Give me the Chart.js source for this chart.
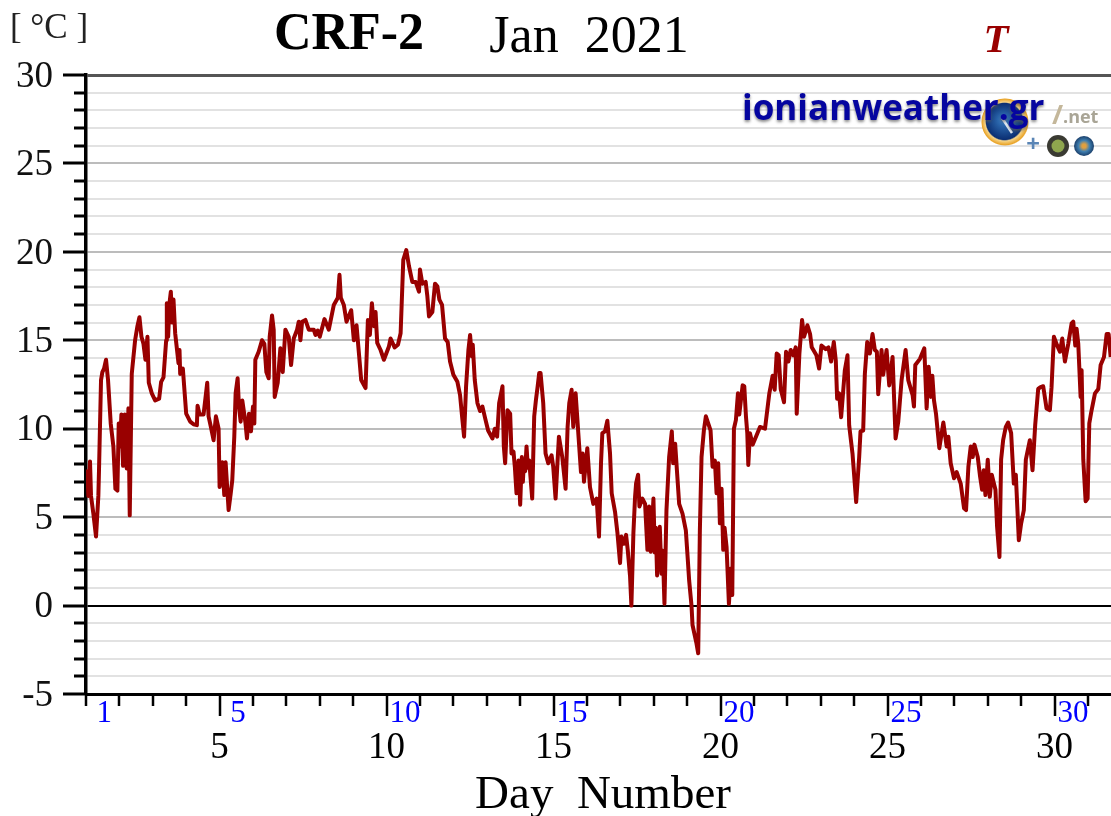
<!DOCTYPE html>
<html>
<head>
<meta charset="utf-8">
<title>CRF-2 Jan 2021</title>
<script src="https://cdn.jsdelivr.net/npm/chart.js@4"></script>
<style>
    html, body { margin: 0; padding: 0; background: #fff; overflow: hidden; }
    canvas { display: block; }
</style>
</head>
<body>
<canvas id="tempChart" width="1111" height="816"></canvas>
<script>
// Temperature trace: day number and deg C
const days = [
    1.04, 1.07, 1.12, 1.15, 1.22, 1.30, 1.37, 1.39, 1.45, 1.49, 1.54, 1.60, 1.66, 1.74, 1.82, 1.88, 1.94, 1.98, 2.02, 2.06,
    2.11, 2.16, 2.22, 2.27, 2.31, 2.37, 2.47, 2.54, 2.60, 2.66, 2.72, 2.78, 2.84, 2.88, 2.97, 3.07, 3.19, 3.25, 3.32, 3.40,
    3.42, 3.46, 3.50, 3.54, 3.58, 3.62, 3.67, 3.77, 3.80, 3.82, 3.90, 4.00, 4.12, 4.22, 4.32, 4.34, 4.40, 4.52, 4.63, 4.67,
    4.74, 4.82, 4.89, 4.97, 5.00, 5.08, 5.14, 5.18, 5.27, 5.33, 5.38, 5.44, 5.48, 5.54, 5.58, 5.63, 5.68, 5.77, 5.82, 5.88,
    5.94, 6.00, 6.04, 6.07, 6.17, 6.27, 6.34, 6.40, 6.47, 6.50, 6.57, 6.62, 6.65, 6.74, 6.82, 6.89, 6.97, 7.07, 7.14, 7.22,
    7.32, 7.37, 7.42, 7.47, 7.57, 7.67, 7.82, 7.87, 7.94, 8.00, 8.14, 8.27, 8.42, 8.54, 8.59, 8.63, 8.72, 8.80, 8.94, 9.02,
    9.10, 9.17, 9.24, 9.37, 9.44, 9.50, 9.56, 9.62, 9.67, 9.72, 9.82, 9.92, 10.07, 10.12, 10.24, 10.34, 10.42, 10.50, 10.59, 10.67,
    10.77, 10.87, 10.97, 11.00, 11.07, 11.17, 11.22, 11.27, 11.37, 11.45, 11.52, 11.58, 11.66, 11.75, 11.83, 11.90, 12.00, 12.12, 12.20, 12.26,
    12.32, 12.38, 12.45, 12.50, 12.55, 12.58, 12.64, 12.72, 12.80, 12.87, 12.95, 13.04, 13.17, 13.24, 13.31, 13.37, 13.47, 13.51, 13.55, 13.62,
    13.70, 13.74, 13.80, 13.84, 13.89, 13.95, 14.00, 14.05, 14.08, 14.11, 14.15, 14.19, 14.23, 14.27, 14.36, 14.42, 14.47, 14.52, 14.57, 14.61, 14.69, 14.76, 14.84, 14.94,
    14.99, 15.06, 15.11, 15.16, 15.26, 15.36, 15.42, 15.47, 15.54, 15.59, 15.66, 15.74, 15.82, 15.87, 15.91, 16.01, 16.09, 16.19, 16.29, 16.36,
    16.42, 16.46, 16.54, 16.61, 16.69, 16.74, 16.84, 16.91, 16.99, 17.03, 17.11, 17.17, 17.22, 17.29, 17.33, 17.39, 17.44, 17.47, 17.53, 17.57,
    17.66, 17.74, 17.81, 17.86, 17.91, 17.99, 18.03, 18.06, 18.10, 18.18, 18.23, 18.27, 18.32, 18.38, 18.46, 18.54, 18.58, 18.64, 18.70, 18.76, 18.86, 18.96, 19.02,
    19.06, 19.13, 19.16, 19.28, 19.33, 19.38, 19.43, 19.50, 19.56, 19.63, 19.70, 19.76, 19.83, 19.88, 19.93, 19.98, 20.03, 20.08, 20.12, 20.18, 20.25,
    20.31, 20.35, 20.40, 20.46, 20.52, 20.56, 20.66, 20.71, 20.76, 20.80, 20.83, 20.88, 20.96, 21.06, 21.18, 21.33, 21.46, 21.56, 21.62, 21.68,
    21.74, 21.80, 21.90, 21.96, 22.03, 22.10, 22.18, 22.25, 22.28, 22.36, 22.44, 22.50, 22.60, 22.68, 22.73, 22.87, 22.95, 23.02, 23.15, 23.23,
    23.31, 23.39, 23.45, 23.49, 23.55, 23.61, 23.72, 23.80, 23.85, 23.95, 24.06, 24.15, 24.19, 24.27, 24.32, 24.39, 24.47, 24.55, 24.62, 24.68,
    24.72, 24.82, 24.87, 24.97, 25.05, 25.15, 25.24, 25.32, 25.42, 25.54, 25.62, 25.75, 25.79, 25.83, 25.97, 26.10, 26.17, 26.23, 26.30, 26.34,
    26.39, 26.45, 26.55, 26.67, 26.77, 26.82, 26.89, 26.99, 27.07, 27.19, 27.29, 27.35, 27.42, 27.49, 27.55, 27.60, 27.70, 27.77, 27.83, 27.88,
    27.93, 28.00, 28.06, 28.12, 28.23, 28.28, 28.35, 28.40, 28.46, 28.54, 28.61, 28.70, 28.78, 28.84, 28.93, 29.00, 29.08, 29.14, 29.26, 29.34,
    29.42, 29.51, 29.58, 29.66, 29.76, 29.86, 29.91, 29.98, 30.08, 30.16, 30.23, 30.31, 30.41, 30.51, 30.56, 30.62, 30.66, 30.71, 30.78, 30.81,
    30.86, 30.93, 30.99, 31.04, 31.10, 31.21, 31.31, 31.38, 31.48, 31.56, 31.62, 31.68
];
const temps = [
    7.7, 6.2, 8.15, 6.2, 5.2, 3.9, 6.2, 7.7, 12.75, 13.2, 13.4, 13.9, 12.75, 10.3, 9.0, 6.6, 6.5, 10.3, 9.0, 10.8,
    7.9, 10.8, 7.75, 11.15, 5.1, 13.1, 15.0, 15.8, 16.3, 15.2, 14.8, 13.9, 15.2, 12.6, 12.0, 11.6, 11.7, 12.65, 12.9, 15.0,
    17.1, 15.2, 17.1, 17.75, 16.0, 17.3, 15.4, 13.7, 14.45, 13.1, 13.4, 10.85, 10.4, 10.25, 10.2, 11.3, 10.8, 10.8, 12.6, 10.7,
    10.1, 9.35, 10.7, 10.0, 6.7, 8.1, 6.25, 8.1, 5.4, 6.3, 7.1, 9.55, 12.0, 12.85, 11.25, 10.4, 11.6, 10.4, 9.45, 10.85,
    9.85, 11.25, 10.3, 13.9, 14.35, 15.0, 14.8, 13.2, 12.85, 15.2, 16.4, 15.6, 11.8, 12.6, 14.55, 13.2, 15.6, 15.2, 13.6, 15.1,
    15.6, 16.05, 15.0, 16.05, 16.15, 15.6, 15.6, 15.3, 15.55, 15.2, 16.2, 15.6, 17.0, 17.4, 18.7, 17.4, 17.0, 16.05, 16.7, 15.0,
    15.85, 14.3, 12.75, 12.3, 16.15, 15.3, 17.1, 15.8, 16.6, 14.85, 14.45, 13.9, 14.65, 15.1, 14.6, 14.75, 15.4, 19.55, 20.1, 19.2,
    18.3, 18.3, 17.75, 19.0, 18.2, 18.3, 17.5, 16.35, 16.6, 18.2, 18.05, 17.3, 17.0, 15.1, 14.9, 13.8, 13.05, 12.65, 11.9, 10.7,
    9.55, 12.4, 14.45, 15.3, 14.1, 14.75, 12.75, 11.45, 11.0, 11.25, 10.6, 9.9, 9.45, 10.0, 9.55, 11.45, 12.4, 9.0, 8.05, 11.05,
    10.85, 8.6, 8.7, 7.85, 6.35, 8.2, 5.7, 8.4, 7.0, 8.05, 7.6, 9.0, 7.8, 8.2, 6.05, 10.7, 11.6, 12.35, 13.15, 13.15, 11.45, 8.6, 8.05, 8.5,
    7.85, 6.05, 7.85, 9.55, 8.4, 6.6, 10.1, 11.45, 12.2, 10.1, 12.0, 9.75, 7.55, 8.6, 7.0, 8.9, 6.7, 5.75, 6.05, 3.9,
    8.05, 9.75, 9.85, 10.45, 8.6, 6.35, 5.3, 4.15, 2.4, 3.9, 3.5, 4.0, 3.15, 1.65, 0.0, 4.1, 6.15, 6.9, 7.4, 5.6,
    6.05, 5.75, 3.15, 5.6, 3.05, 6.05, 3.0, 4.4, 1.7, 4.45, 1.8, 3.1, 0.1, 5.4, 8.4, 9.85, 8.05, 9.15, 7.45, 5.75, 5.2, 4.25, 2.55,
    1.4, 0.0, -1.1, -2.15, -2.7, 4.25, 8.4, 9.9, 10.7, 10.3, 9.9, 7.85, 8.2, 6.35, 8.05, 4.65, 6.6, 3.15, 4.4, 3.3, 0.1,
    2.1, 0.6, 10.0, 10.5, 12.0, 10.8, 12.45, 12.4, 10.7, 9.75, 7.95, 9.75, 9.1, 9.55, 10.1, 10.0, 12.0, 13.0, 12.2, 14.25,
    14.15, 12.25, 11.5, 14.35, 13.8, 14.45, 14.15, 14.6, 10.85, 14.25, 16.15, 15.2, 15.85, 15.35, 14.6, 14.15, 13.4, 14.7, 14.5, 14.6,
    13.8, 14.9, 13.85, 11.7, 12.0, 10.65, 13.3, 14.15, 10.2, 8.6, 5.85, 8.4, 9.85, 9.9, 13.1, 14.9, 14.25, 15.35, 14.45, 14.35,
    11.95, 14.45, 13.05, 14.45, 12.45, 14.05, 9.45, 10.4, 12.75, 14.45, 12.75, 11.9, 11.25, 13.6, 13.95, 14.55, 11.15, 13.5, 11.8, 13.0,
    11.6, 10.85, 8.9, 10.35, 9.0, 9.55, 8.05, 7.2, 7.55, 6.9, 5.5, 5.4, 7.85, 9.0, 8.4, 9.1, 8.4, 7.3, 6.55, 7.65,
    6.25, 8.25, 6.15, 7.4, 6.55, 4.45, 2.75, 8.25, 9.35, 10.1, 10.35, 9.75, 6.9, 7.4, 3.7, 4.65, 5.4, 8.25, 9.35, 7.65,
    10.2, 12.25, 12.35, 12.4, 11.15, 11.05, 12.35, 15.2, 14.7, 14.35, 15.1, 13.8, 14.8, 15.95, 16.05, 14.7, 15.65, 14.8, 11.8, 13.3,
    8.25, 5.9, 6.05, 10.3, 10.95, 12.0, 12.25, 13.6, 14.05, 15.35, 15.35, 14.05
];
const blueDays = [1, 5, 10, 15, 20, 25, 30];

const serif = '"Liberation Serif", "Times New Roman", serif';
const lineRed = "#990000";

function gridColor(value) {
    if (value === 0) return "#000000";
    if (value === 30) return "#555555";
    return value % 5 === 0 ? "#bcbcbc" : "#e2e2e2";
}

function drawText(ctx, text, x, y, font, color, align) {
    ctx.font = font;
    ctx.fillStyle = color;
    ctx.textAlign = align || "center";
    ctx.textBaseline = "middle";
    ctx.fillText(text, x, y);
}

// The picture has two tick lengths on each axis and the blue day labels
const axisMarks = {
    id: "axisMarks",
    afterDraw(chart) {
        const ctx = chart.ctx;
        const xs = chart.scales.x;
        const ys = chart.scales.y;
        ctx.save();
        ctx.strokeStyle = "#000";
        ctx.lineWidth = 3;
        ys.ticks.forEach(t => {
            const py = Math.round(ys.getPixelForValue(t.value));
            ctx.beginPath();
            ctx.moveTo(t.value % 5 === 0 ? 63 : 74, py);
            ctx.lineTo(xs.left, py);
            ctx.stroke();
        });
        ctx.lineWidth = 2.5;
        xs.ticks.forEach(t => {
            const px = Math.round(xs.getPixelForValue(t.value));
            ctx.beginPath();
            ctx.moveTo(px, ys.bottom);
            ctx.lineTo(px, ys.bottom + (t.value % 5 === 0 ? 22 : 12));
            ctx.stroke();
        });
        blueDays.forEach(d => {
            drawText(ctx, String(d), xs.getPixelForValue(d + 0.55), 714, "31px " + serif, "#0000ff");
        });
        ctx.restore();
    }
};

const headerTexts = {
    id: "headerTexts",
    afterDraw(chart) {
        const ctx = chart.ctx;
        ctx.save();
        drawText(ctx, "[ °C ]", 49, 29, "35px " + serif, "#222222");
        drawText(ctx, "CRF-2", 349, 36, "bold 52px " + serif, "#000000");
        drawText(ctx, "Jan  2021", 589, 38, "52px " + serif, "#000000");
        drawText(ctx, "T", 996, 41, "italic bold 41px " + serif, lineRed);
        drawText(ctx, "Day  Number", 603, 796, "47px " + serif, "#000000");
        ctx.restore();
    }
};

// Site logo in the upper right corner of the plot
const siteLogo = {
    id: "siteLogo",
    afterDraw(chart) {
        const ctx = chart.ctx;
        ctx.save();

        let disc = ctx.createRadialGradient(1003, 120, 3, 1005, 122, 24);
        disc.addColorStop(0, "#2f6fb5");
        disc.addColorStop(0.72, "#0b2f73");
        disc.addColorStop(0.78, "#f6d58a");
        disc.addColorStop(0.95, "#e9a429");
        disc.addColorStop(1, "rgba(233,164,41,0)");
        ctx.fillStyle = disc;
        ctx.beginPath();
        ctx.arc(1005, 122, 24, 0, Math.PI * 2);
        ctx.fill();

        ctx.strokeStyle = "#dfe8f2";
        ctx.lineWidth = 2.5;
        ctx.beginPath();
        ctx.moveTo(1002, 118);
        ctx.lineTo(1012, 133);
        ctx.stroke();

        ctx.shadowColor = "rgba(90,90,90,0.7)";
        ctx.shadowBlur = 3;
        ctx.shadowOffsetY = 2;
        drawText(ctx, "ionianweather.gr", 742, 110, 'bold 35px "Open Sans", "Noto Sans", sans-serif', "#0505a0", "left");
        ctx.shadowColor = "transparent";
        drawText(ctx, "/", 1052, 116, 'bold 27px "Open Sans", sans-serif', "#c4b79a", "left");
        drawText(ctx, ".net", 1063, 118, 'bold 18px "Open Sans", sans-serif', "#a9a596", "left");
        drawText(ctx, "+", 1033, 145, 'bold 24px "Open Sans", sans-serif', "#5a85b5");

        ctx.fillStyle = "#3a3a32";
        ctx.beginPath();
        ctx.arc(1058, 146, 11, 0, Math.PI * 2);
        ctx.fill();
        ctx.fillStyle = "#8fa64e";
        ctx.beginPath();
        ctx.arc(1058, 146, 6.5, 0, Math.PI * 2);
        ctx.fill();

        let win = ctx.createRadialGradient(1084, 146, 2, 1084, 146, 10);
        win.addColorStop(0, "#e0a040");
        win.addColorStop(0.45, "#3f7fb0");
        win.addColorStop(1, "#1b3f6b");
        ctx.fillStyle = win;
        ctx.beginPath();
        ctx.arc(1084, 146, 10, 0, Math.PI * 2);
        ctx.fill();

        ctx.restore();
    }
};

document.addEventListener("DOMContentLoaded", function () {
    const ctx = document.getElementById("tempChart").getContext("2d");

    new Chart(ctx, {
        type: "line",
        data: {
            datasets: [{
                data: days.map((d, i) => ({ x: d, y: temps[i] })),
                borderColor: lineRed,
                borderWidth: 4,
                borderJoinStyle: "round",
                pointRadius: 0,
                tension: 0
            }]
        },
        options: {
            responsive: false,
            animation: false,
            layout: { padding: { top: 75, left: 0, right: 0, bottom: 0 } },
            plugins: {
                legend: { display: false },
                tooltip: { enabled: false }
            },
            scales: {
                x: {
                    type: "linear",
                    min: 1,
                    max: 31.69,
                    afterFit: scale => {
                        scale.height = 122;
                        scale.paddingRight = 0;
                        scale.paddingLeft = 0;
                    },
                    border: { display: true, color: "#000", width: 3 },
                    grid: { drawOnChartArea: false, drawTicks: false },
                    ticks: {
                        stepSize: 1,
                        includeBounds: false,
                        autoSkip: false,
                        maxRotation: 0,
                        padding: 32,
                        color: "#000",
                        font: { family: serif, size: 37 },
                        callback: value => (value % 5 === 0 ? String(value) : "")
                    }
                },
                y: {
                    min: -5,
                    max: 30,
                    afterFit: scale => { scale.width = 86; },
                    border: { display: true, color: "#000", width: 3.5 },
                    grid: {
                        drawTicks: false,
                        color: c => gridColor(c.tick.value),
                        lineWidth: c => (c.tick.value === 30 ? 3 : 2)
                    },
                    ticks: {
                        stepSize: 1,
                        autoSkip: false,
                        padding: 33,
                        labelOffset: 2,
                        color: "#111",
                        font: { family: serif, size: 37 },
                        callback: value => (value % 5 === 0 ? String(value) : "")
                    }
                }
            }
        },
        plugins: [axisMarks, siteLogo, headerTexts]
    });
});
</script>
</body>
</html>
